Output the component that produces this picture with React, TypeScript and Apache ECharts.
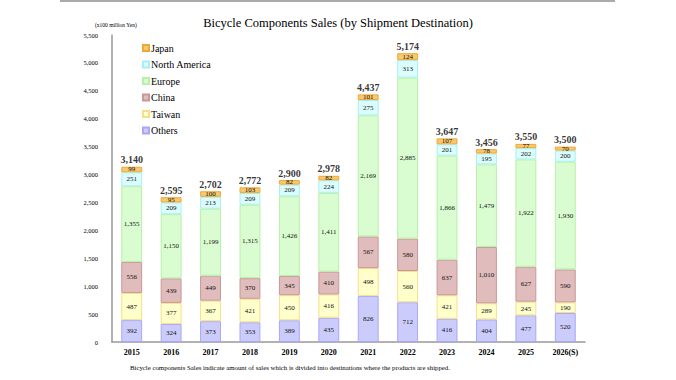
import React, { useEffect, useRef } from "react";
import * as echarts from "echarts";

const categories = ["2015", "2016", "2017", "2018", "2019", "2020", "2021", "2022", "2023", "2024", "2025", "2026(S)"];
const others = [392, 324, 373, 353, 389, 435, 826, 712, 416, 404, 477, 520];
const taiwan = [487, 377, 367, 421, 450, 416, 498, 560, 421, 289, 245, 190];
const china = [556, 439, 449, 370, 345, 410, 567, 580, 637, 1010, 627, 590];
const europe = [1355, 1150, 1199, 1315, 1426, 1411, 2169, 2885, 1866, 1479, 1922, 1930];
const northAmerica = [251, 209, 213, 209, 209, 224, 275, 313, 201, 195, 202, 200];
const japan = [99, 95, 100, 103, 82, 82, 101, 124, 107, 78, 77, 70];
const totals = [3140, 2595, 2702, 2772, 2900, 2978, 4437, 5174, 3647, 3456, 3550, 3500];

const FONT = "'Liberation Serif', 'DejaVu Serif', serif";
const fmt = (v: number) => v.toLocaleString("en-US");

const seriesDefs = [
  { name: "Others", data: others, fill: "#ccccfc", border: "#a8a8f4" },
  { name: "Taiwan", data: taiwan, fill: "#ffffcc", border: "#f6de8c" },
  { name: "China", data: china, fill: "#e0bcbc", border: "#c89898" },
  { name: "Europe", data: europe, fill: "#d9fdd0", border: "#b8f0a8" },
  { name: "North America", data: northAmerica, fill: "#dcfdfd", border: "#a8f0f0" },
  { name: "Japan", data: japan, fill: "#f8c870", border: "#eea838" },
];

export default function App() {
  const ref = useRef<HTMLDivElement>(null);
  useEffect(() => {
    if (!ref.current) return;
    const chart = echarts.init(ref.current, null, { renderer: "svg" });
    const barSeries: any[] = seriesDefs.map((s) => ({
      name: s.name,
      type: "bar",
      stack: "total",
      barWidth: "53%",
      data: s.data,
      itemStyle: { color: s.fill, borderColor: s.border, borderWidth: 1 },
      label: {
        show: true,
        position: "inside",
        fontFamily: FONT,
        fontSize: 7,
        color: "#111",
        formatter: (p: any) => fmt(p.value),
      },
    }));
    barSeries.push({
      name: "Total",
      type: "scatter",
      data: totals,
      symbolSize: 0,
      silent: true,
      label: {
        show: true,
        position: "top",
        distance: 2,
        fontFamily: FONT,
        fontSize: 10,
        fontWeight: "bold",
        color: "#000",
        formatter: (p: any) => fmt(p.value),
      },
    });
    chart.setOption({
      animation: false,
      backgroundColor: "#fff",
      textStyle: { fontFamily: FONT },
      title: {
        text: "Bicycle Components Sales (by Shipment Destination)",
        left: "center",
        top: 11,
        textStyle: { fontFamily: FONT, fontSize: 12.5, fontWeight: "normal", color: "#000" },
      },
      legend: {
        orient: "vertical",
        left: 137,
        top: 38,
        icon: "rect",
        itemWidth: 6,
        itemHeight: 6,
        itemGap: 6.5,
        data: ["Japan", "North America", "Europe", "China", "Taiwan", "Others"],
        textStyle: { fontFamily: FONT, fontSize: 10, color: "#000", padding: [0, 0, 0, -3] },
      },
      grid: { left: 112, right: 91, top: 35, bottom: 38 },
      xAxis: {
        type: "category",
        data: categories,
        axisLine: { lineStyle: { color: "#999", width: 1.5 } },
        axisTick: { show: false },
        axisLabel: { fontFamily: FONT, fontSize: 8, color: "#000", fontWeight: "bold", margin: 6 },
      },
      yAxis: {
        type: "value",
        min: 0,
        max: 5500,
        interval: 500,
        splitLine: { show: false },
        axisLine: { show: true, lineStyle: { color: "#999", width: 1.5 } },
        axisTick: { show: false },
        axisLabel: { fontFamily: FONT, fontSize: 6.5, color: "#000", margin: 14, formatter: (v: number) => fmt(v) },
      },
      graphic: [
        { type: "rect", shape: { x: 60, y: 0, width: 555, height: 2 }, style: { fill: "#aaa" } },
        {
          type: "text",
          x: 95,
          y: 22,
          style: { text: "(x100 million Yen)", fontFamily: FONT, fontSize: 5.5, fill: "#000" },
        },
        {
          type: "text",
          x: 130,
          y: 364,
          style: {
            text: "Bicycle components Sales indicate amount of sales which is divided into destinations where the products are shipped.",
            fontFamily: FONT,
            fontSize: 6.8,
            fill: "#000",
          },
        },
      ],
      series: barSeries,
    });
    return () => chart.dispose();
  }, []);
  return <div ref={ref} style={{ position: "absolute", left: 0, top: 0, width: 676, height: 380 }} />;
}
